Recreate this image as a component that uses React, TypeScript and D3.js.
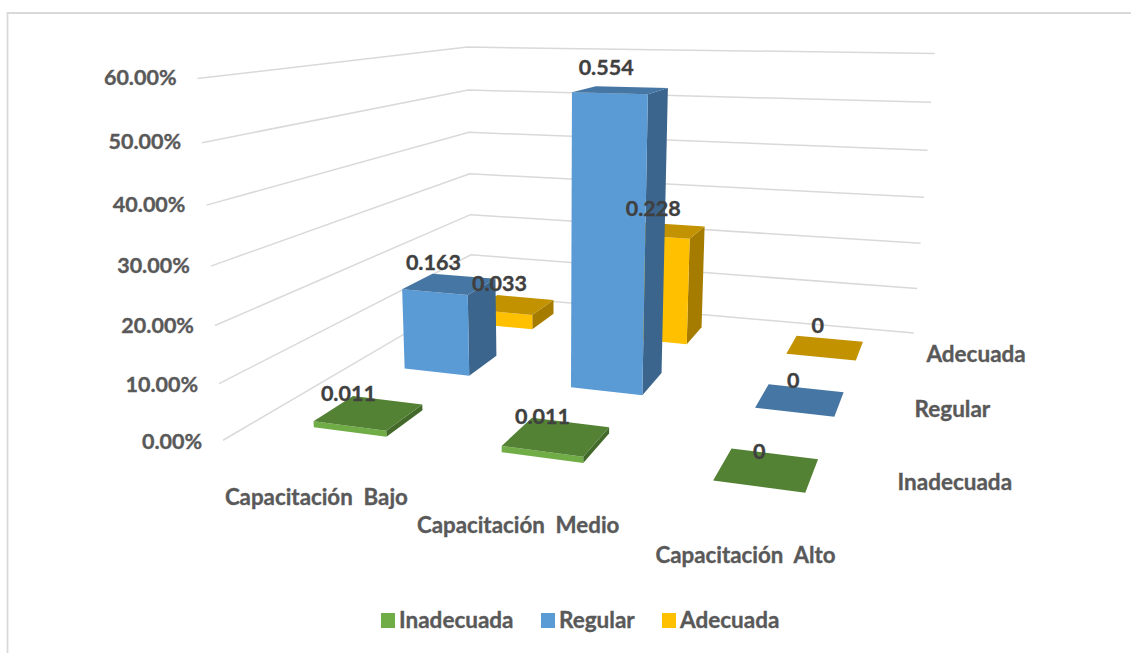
import React from "react";
import * as d3 from "d3";

// Chart data
const categories = ["Capacitación  Bajo", "Capacitación  Medio", "Capacitación  Alto"];
const seriesNames = ["Inadecuada", "Regular", "Adecuada"];
const inadecuada = [0.011, 0.011, 0];
const regular = [0.163, 0.554, 0];
const adecuada = [0.033, 0.228, 0];
const seriesValues = [inadecuada, regular, adecuada];
const valueTicks = [0, 0.1, 0.2, 0.3, 0.4, 0.5, 0.6];

// Face colours per series: front, top, side
const frontColors = ["#70AD47", "#5B9BD5", "#FFC000"];
const topColors = ["#548235", "#4676A3", "#C39200"];
const sideColors = ["#436A2A", "#3B658C", "#A67C00"];

// Camera calibration: box corners (category, depth, value fraction) and where they land
const calibration: [number, number, number, number, number][] = [
  [0, 0, 0, 223, 440],
  [0, 1, 0, 472, 295],
  [1, 1, 0, 914, 332],
  [1, 0, 0, 865, 532],
  [0, 0, 1, 198, 78],
  [0, 1, 1, 467, 47],
  [1, 1, 1, 935, 54],
];

// Least squares fit of a 3x4 projective camera with its last term fixed to 1
function fitCamera(): number[] {
  const A: number[][] = [];
  const b: number[] = [];
  calibration.forEach(([x, y, z, sx, sy]) => {
    A.push([x, y, z, 1, 0, 0, 0, 0, -sx * x, -sx * y, -sx * z]);
    b.push(sx);
    A.push([0, 0, 0, 0, x, y, z, 1, -sy * x, -sy * y, -sy * z]);
    b.push(sy);
  });
  const n = 11;
  const M = d3.range(n).map((i) => [
    ...d3.range(n).map((j) => d3.sum(A, (r) => r[i] * r[j])),
    d3.sum(A, (r, k) => r[i] * b[k]),
  ]);
  for (let c = 0; c < n; c++) {
    let p = c;
    for (let r = c + 1; r < n; r++) if (Math.abs(M[r][c]) > Math.abs(M[p][c])) p = r;
    [M[c], M[p]] = [M[p], M[c]];
    for (let r = 0; r < n; r++) {
      if (r === c) continue;
      const f = M[r][c] / M[c][c];
      for (let k = c; k <= n; k++) M[r][k] -= f * M[c][k];
    }
  }
  return d3.range(n).map((i) => M[i][n] / M[i][i]);
}

const cam = fitCamera();
const scaleU = d3.scaleLinear().domain([0, 3]).range([0, 1]);
const scaleV = d3.scaleLinear().domain([0, 3]).range([0, 1]);
const scaleH = d3.scaleLinear().domain([0, 0.6]).range([0, 1]);

function project(u: number, v: number, value: number): [number, number] {
  const x = scaleU(u), y = scaleV(v), z = scaleH(value);
  const w = cam[8] * x + cam[9] * y + cam[10] * z + 1;
  return [
    (cam[0] * x + cam[1] * y + cam[2] * z + cam[3]) / w,
    (cam[4] * x + cam[5] * y + cam[6] * z + cam[7]) / w,
  ];
}

// Column footprint inside its floor cell
const gapLeft = 0.32;
const gapRight = 0.28;
const gapDepth = 0.3;
const poly = d3.line();

// Offsets from a bar's top centre to its value label, by series then category
const labelOffsets = [
  [[-17, -18], [-10, -19], [-3, -17]],
  [[-13, -21], [-11, -22], [-3, -18]],
  [[-12, -20], [-9, -21], [-4, -21]],
];
// Offsets of axis captions from their anchor points on the floor
const categoryOffsets = [[2, 51.5], [4, 51.5], [5, 49.5]];
const seriesOffsets = [[20.5, 6], [19.5, 7], [18, 7]];

const labelFont = "Lato, sans-serif";
const gridColor = "#D9D9D9";
const labelWeight = 0.35;

function Bar({ s, c }: { s: number; c: number }) {
  const value = seriesValues[s][c];
  const u0 = c + gapLeft, u1 = c + 1 - gapRight;
  const v0 = s + gapDepth, v1 = s + 1 - gapDepth;
  const top = poly([project(u0, v0, value), project(u1, v0, value), project(u1, v1, value), project(u0, v1, value)]) + "Z";
  const front = poly([project(u0, v0, 0), project(u1, v0, 0), project(u1, v0, value), project(u0, v0, value)]) + "Z";
  const side = poly([project(u1, v0, 0), project(u1, v1, 0), project(u1, v1, value), project(u1, v0, value)]) + "Z";
  return (
    <g>
      {value > 0 && <path d={side} fill={sideColors[s]} />}
      {value > 0 && <path d={front} fill={frontColors[s]} />}
      <path d={top} fill={topColors[s]} />
    </g>
  );
}

export default function App() {
  const barOrder = [2, 1, 0].flatMap((s) => [0, 1, 2].map((c) => ({ s, c })));
  const legendX = d3.scaleOrdinal<number>().domain(seriesNames).range([381, 541, 662]);
  return (
    <svg
      width={1131}
      height={653}
      style={{ position: "absolute", left: 0, top: 0, background: "#fff" }}
      fontFamily={labelFont}
      fontWeight={700}
    >
      <path d="M7.5,653V13H1131" fill="none" stroke={gridColor} strokeWidth={1.8} />
      {valueTicks.map((t) => {
        const a = project(0, 0, t), b = project(0, 3, t), c = project(3, 3, t);
        return (
          <g key={t}>
            <path d={poly([a, b, c])!} fill="none" stroke={gridColor} strokeWidth={1.5} />
            <text x={a[0] - 21} y={a[1] + 8.5 - t * 4} textAnchor="end" fontSize={21.5} fill="#595959" stroke="#595959" strokeWidth={labelWeight}>
              {d3.format(".2%")(t)}
            </text>
          </g>
        );
      })}
      {barOrder.map(({ s, c }) => (
        <Bar key={`${s}-${c}`} s={s} c={c} />
      ))}
      {barOrder.map(({ s, c }) => {
        const value = seriesValues[s][c];
        const p = project(c + 0.5, s + 0.5, value);
        const o = labelOffsets[s][c];
        return (
          <text key={`${s}-${c}`} x={p[0] + o[0]} y={p[1] + o[1] + 7} textAnchor="middle" fontSize={21.5} fill="#404040" stroke="#404040" strokeWidth={labelWeight}>
            {value}
          </text>
        );
      })}
      {categories.map((name, i) => {
        const p = project(i + 0.5, 0, 0);
        return (
          <text key={name} x={p[0] + categoryOffsets[i][0]} y={p[1] + categoryOffsets[i][1]} textAnchor="middle" fontSize={22.3} fill="#595959" stroke="#595959" strokeWidth={labelWeight} style={{ whiteSpace: "pre" }}>
            {name}
          </text>
        );
      })}
      {seriesNames.map((name, i) => {
        const p = project(3, i + 0.5, 0);
        return (
          <text key={name} x={p[0] + seriesOffsets[i][0]} y={p[1] + seriesOffsets[i][1]} fontSize={22.5} fill="#595959" stroke="#595959" strokeWidth={labelWeight}>
            {name}
          </text>
        );
      })}
      {seriesNames.map((name, i) => (
        <g key={name}>
          <rect x={legendX(name)} y={613} width={14} height={15} fill={frontColors[i]} />
          <text x={legendX(name) + 18} y={627.5} fontSize={22.5} fill="#595959" stroke="#595959" strokeWidth={labelWeight}>
            {name}
          </text>
        </g>
      ))}
    </svg>
  );
}
